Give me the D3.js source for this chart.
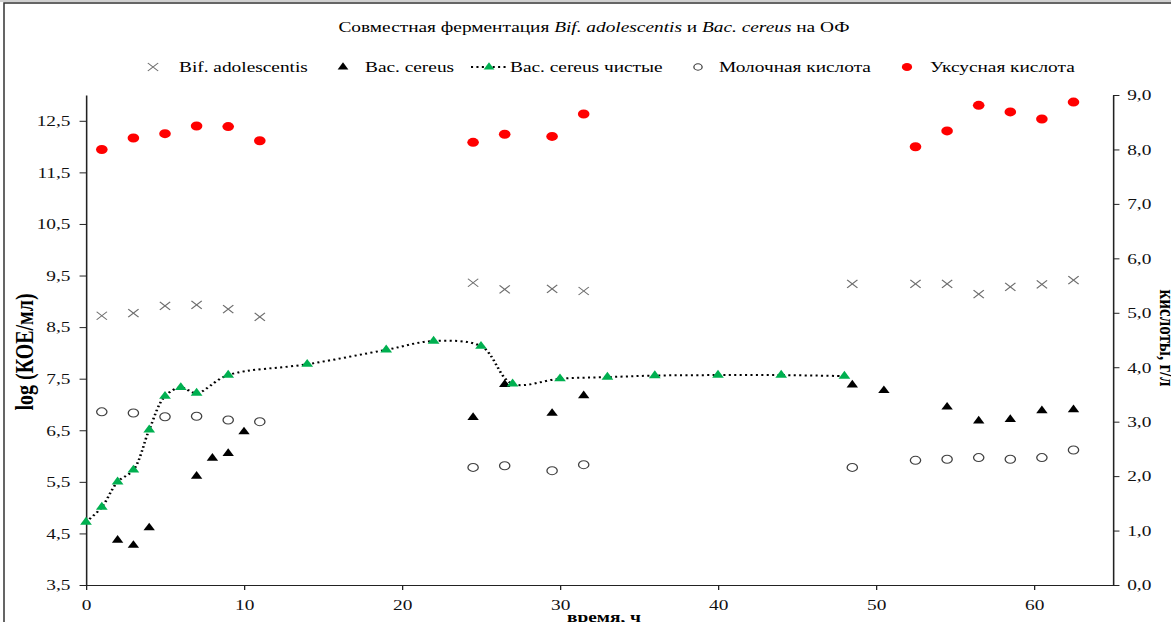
<!DOCTYPE html>
<html>
<head>
<meta charset="utf-8">
<script src="https://cdn.jsdelivr.net/npm/d3@7"></script>
<style>
  body { margin: 0; background: #fff; }
  text { font-family: "Liberation Serif", "Times New Roman", serif; }
</style>
</head>
<body>
<div id="chart"></div>
<script>
// время, ч
const tBif = [1, 3, 5, 7, 9, 11, 24.5, 26.5, 29.5, 31.5, 48.5, 52.5, 54.5, 56.5, 58.5, 60.5, 62.5];
const bif = [8.72, 8.77, 8.91, 8.93, 8.85, 8.70, 9.36, 9.23, 9.24, 9.20, 9.34, 9.34, 9.34, 9.14, 9.28, 9.33, 9.41];

const tCereus = [2, 3, 4, 7, 8, 9, 10, 24.5, 26.5, 29.5, 31.5, 48.5, 50.5, 54.5, 56.5, 58.5, 60.5, 62.5];
const cereus = [4.37, 4.27, 4.61, 5.61, 5.96, 6.05, 6.47, 6.75, 7.39, 6.83, 7.17, 7.38, 7.27, 6.95, 6.68, 6.71, 6.88, 6.90];

const tPure = [0, 1, 2, 3, 4, 5, 6, 7, 9, 14, 19, 22, 25, 27, 30, 33, 36, 40, 44, 48];
const pure = [4.72, 5.01, 5.50, 5.73, 6.51, 7.16, 7.33, 7.22, 7.57, 7.78, 8.06, 8.23, 8.13, 7.40, 7.50, 7.53, 7.56, 7.57, 7.57, 7.55];

const tLactic = [1, 3, 5, 7, 9, 11, 24.5, 26.5, 29.5, 31.5, 48.5, 52.5, 54.5, 56.5, 58.5, 60.5, 62.5];
const lactic = [3.18, 3.16, 3.09, 3.10, 3.03, 3.00, 2.16, 2.19, 2.10, 2.21, 2.16, 2.29, 2.31, 2.34, 2.31, 2.34, 2.48];

const tAcetic = [1, 3, 5, 7, 9, 11, 24.5, 26.5, 29.5, 31.5, 52.5, 54.5, 56.5, 58.5, 60.5, 62.5];
const acetic = [8.00, 8.21, 8.29, 8.43, 8.42, 8.16, 8.13, 8.28, 8.24, 8.65, 8.05, 8.34, 8.81, 8.69, 8.56, 8.87];

const xTicks = [0, 10, 20, 30, 40, 50, 60];
const yLeftTicks = [3.5, 4.5, 5.5, 6.5, 7.5, 8.5, 9.5, 10.5, 11.5, 12.5];
const yRightTicks = [0, 1, 2, 3, 4, 5, 6, 7, 8, 9];

const legendNames = ["Bif. adolescentis", "Bac. cereus", "Bac. cereus чистые", "Молочная кислота", "Уксусная кислота"];

// the original picture is stretched sideways, so draw in a squeezed space
const sx = 1.29;
const X = v => v / sx;

const W = 1171, H = 622;
const svg = d3.select('#chart').append('svg')
  .attr('width', W)
  .attr('height', H);

svg.append('rect').attr('width', W).attr('height', H).attr('fill', '#fff');
// frame of the pasted image
svg.append('rect').attr('x', 0).attr('y', 0).attr('width', W).attr('height', 2).attr('fill', '#d0d0d0');
svg.append('path').attr('d', `M4,${H} V3 H${W}`).attr('fill', 'none').attr('stroke', '#333').attr('stroke-width', 1.5);

const g = svg.append('g').attr('transform', `scale(${sx},1)`);

const x = d3.scaleLinear().domain([0, 65]).range([X(86), X(1113)]);
const yL = d3.scaleLinear().domain([3.5, 13]).range([585, 95]);
const yR = d3.scaleLinear().domain([0, 9]).range([585, 95]);

const comma = d => d3.format('.1f')(d).replace('.', ',');

function styleAxis(sel) {
  sel.selectAll('path').attr('stroke', '#222').attr('stroke-width', 1.2);
  sel.selectAll('line').attr('stroke', '#222');
  sel.selectAll('text').attr('font-size', 15).attr('fill', '#111')
    .style('font-family', '"Liberation Serif", serif');
}

g.append('g').attr('transform', `translate(${X(86)},0)`)
  .call(d3.axisLeft(yL).tickValues(yLeftTicks).tickFormat(comma).tickSize(5).tickSizeOuter(0).tickPadding(7))
  .call(styleAxis);

g.append('g').attr('transform', `translate(${X(1113)},0)`)
  .call(d3.axisRight(yR).tickValues(yRightTicks).tickFormat(comma).tickSize(5).tickSizeOuter(0).tickPadding(6))
  .call(styleAxis);

g.append('g').attr('transform', 'translate(0,585)')
  .call(d3.axisBottom(x).tickValues(xTicks).tickFormat(d3.format('d')).tickSize(5).tickSizeOuter(0).tickPadding(9))
  .call(styleAxis);

// axis titles
g.append('text')
  .attr('transform', `translate(${X(33)},352) rotate(-90)`)
  .attr('text-anchor', 'middle')
  .attr('font-size', 20).attr('font-weight', 'bold')
  .text('log (КОЕ/мл)');

g.append('text')
  .attr('transform', `translate(${X(1160)},338) rotate(90)`)
  .attr('text-anchor', 'middle')
  .attr('font-size', 17).attr('font-weight', 'bold')
  .text('кислоты, г/л');

g.append('text')
  .attr('x', X(604)).attr('y', 622)
  .attr('text-anchor', 'middle')
  .attr('font-size', 15).attr('font-weight', 'bold')
  .text('время, ч');

// title
const title = g.append('text')
  .attr('x', X(594)).attr('y', 32)
  .attr('text-anchor', 'middle')
  .attr('font-size', 15);
title.append('tspan').text('Совместная ферментация ');
title.append('tspan').attr('font-style', 'italic').text('Bif. adolescentis');
title.append('tspan').text(' и ');
title.append('tspan').attr('font-style', 'italic').text('Bac. cereus');
title.append('tspan').text('  на ОФ');

// markers
const cross = 'M-4,-4L4,4M-4,4L4,-4';
const tri = d3.symbol().type(d3.symbolTriangle);

// dotted smoothed line
const line = d3.line()
  .x(d => x(d[0]))
  .y(d => yL(d[1]))
  .curve(d3.curveCatmullRom.alpha(0.5));

g.append('path')
  .datum(d3.zip(tPure, pure))
  .attr('d', line)
  .attr('fill', 'none')
  .attr('stroke', '#000')
  .attr('stroke-width', 2)
  .attr('stroke-dasharray', '1.6,2.6');

g.append('g').selectAll('path')
  .data(d3.zip(tBif, bif))
  .join('path')
  .attr('transform', d => `translate(${x(d[0])},${yL(d[1])})`)
  .attr('d', cross)
  .attr('fill', 'none')
  .attr('stroke', '#6e6e6e')
  .attr('stroke-width', 1);

g.append('g').selectAll('path')
  .data(d3.zip(tCereus, cereus))
  .join('path')
  .attr('transform', d => `translate(${x(d[0])},${yL(d[1])})`)
  .attr('d', tri.size(34)())
  .attr('fill', '#000');

g.append('g').selectAll('path')
  .data(d3.zip(tPure, pure))
  .join('path')
  .attr('transform', d => `translate(${x(d[0])},${yL(d[1])})`)
  .attr('d', tri.size(36)())
  .attr('fill', '#00b050');

g.append('g').selectAll('circle')
  .data(d3.zip(tLactic, lactic))
  .join('circle')
  .attr('cx', d => x(d[0]))
  .attr('cy', d => yR(d[1]))
  .attr('r', 4)
  .attr('fill', '#fff')
  .attr('stroke', '#404040')
  .attr('stroke-width', 1);

g.append('g').selectAll('circle')
  .data(d3.zip(tAcetic, acetic))
  .join('circle')
  .attr('cx', d => x(d[0]))
  .attr('cy', d => yR(d[1]))
  .attr('r', 4.5)
  .attr('fill', '#ff0000');

// legend
const ly = 67;
const leg = g.append('g');
leg.append('path').attr('transform', `translate(${X(153)},${ly})`).attr('d', cross)
  .attr('fill', 'none').attr('stroke', '#6e6e6e');
leg.append('path').attr('transform', `translate(${X(343)},${ly})`).attr('d', tri.size(30)()).attr('fill', '#000');
leg.append('line').attr('x1', X(471)).attr('x2', X(506)).attr('y1', ly).attr('y2', ly)
  .attr('stroke', '#000').attr('stroke-width', 2).attr('stroke-dasharray', '1.6,2.6');
leg.append('path').attr('transform', `translate(${X(489)},${ly})`).attr('d', tri.size(30)()).attr('fill', '#00b050');
leg.append('circle').attr('cx', X(698)).attr('cy', ly).attr('r', 3.2)
  .attr('fill', '#fff').attr('stroke', '#404040');
leg.append('circle').attr('cx', X(907)).attr('cy', ly).attr('r', 4).attr('fill', '#ff0000');

const legX = [179, 365, 510, 719, 930];
leg.selectAll('text')
  .data(legendNames)
  .join('text')
  .attr('x', (d, i) => X(legX[i]))
  .attr('y', ly + 5)
  .attr('font-size', 15)
  .text(d => d);
</script>
</body>
</html>
